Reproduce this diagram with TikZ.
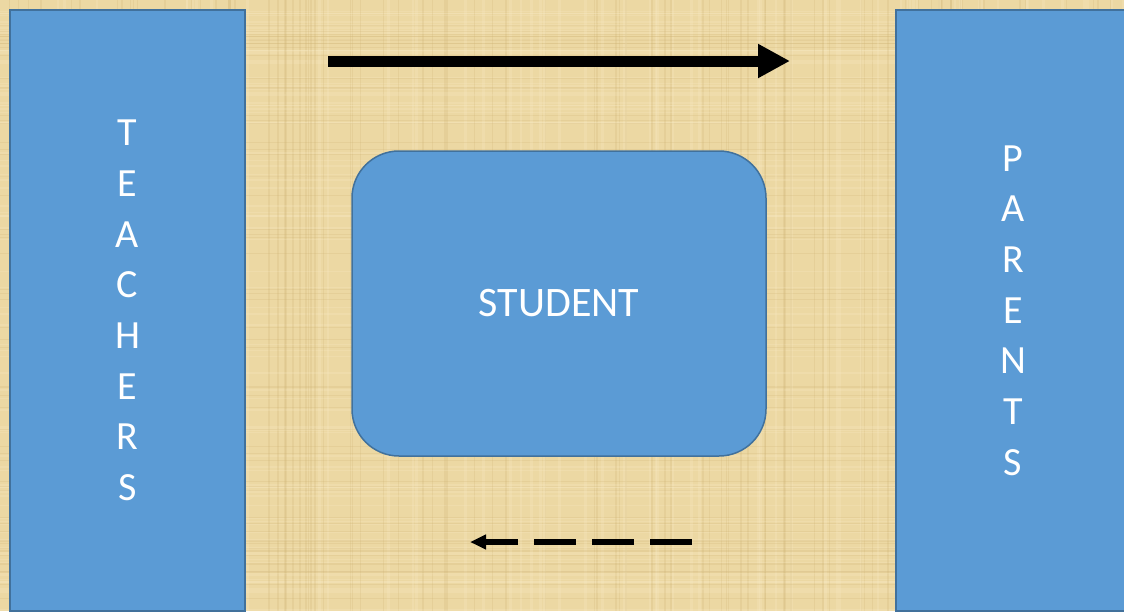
\documentclass[tikz,border=0pt]{standalone}
\usepackage{fontspec}
\setmainfont{Carlito}
\usepackage{tikz}
\usetikzlibrary{arrows.meta,positioning}
\usepackage{xcolor}
\definecolor{papyrus}{RGB}{236,216,163}
\definecolor{papyrusdark}{RGB}{205,178,115}
\definecolor{papyruslight}{RGB}{250,238,200}
\definecolor{boxfill}{RGB}{91,155,213}
\definecolor{boxline}{RGB}{65,113,156}

\begin{document}
\begin{tikzpicture}[
  x=1pt, y=-1pt,
  panel/.style={draw=boxline, fill=boxfill, line width=1.5pt, inner sep=0pt,
    outer sep=0pt, text=white, align=center,
    font=\fontsize{40}{50.7}\selectfont},
  fiber/.style={line width=#1, opacity=0.22},
  bigarr/.style={-{Triangle[length=32pt, width=32pt]}, line width=11pt},
  backarr/.style={-{Triangle[length=16pt, width=14pt]}, line width=6pt,
    dash pattern=on 42pt off 16pt}
]
% paper background
\useasboundingbox (0,0) rectangle (1124,611);
\fill[papyrus] (0,0) rectangle (1124,611);
\pgfmathsetseed{17}
\foreach \i in {1,...,90} {
  \pgfmathsetmacro\xx{rnd*1124}
  \pgfmathsetmacro\yy{rnd*611}
  \draw[fiber=1.5pt, papyrusdark] (\xx,0) -- (\xx,611);
  \draw[fiber=1.5pt, papyruslight] (0,\yy) -- (1124,\yy);
}
\foreach \i in {1,...,60} {
  \pgfmathsetmacro\xx{rnd*1124}
  \pgfmathsetmacro\yy{rnd*611}
  \draw[fiber=2.5pt, papyruslight] (\xx,0) -- (\xx,611);
  \draw[fiber=1pt, papyrusdark] (0,\yy) -- (1124,\yy);
}

% the three parties
\node[panel, minimum width=235pt, minimum height=601pt] (teachers)
  at (127.5,310.5) {T\\E\\A\\C\\H\\E\\R\\S};
\node[panel, minimum width=234pt, minimum height=601pt] (parents)
  at (1013,310.5) {P\\A\\R\\E\\N\\T\\S};
\node[panel, rounded corners=47pt, minimum width=414pt, minimum height=305pt,
  font=\fontsize{42}{50}\selectfont] (student) at (559,303.5) {STUDENT};

% arrow ends
\coordinate (fwdstart) at (328,61);
\coordinate (fwdend) at (790,61);
\coordinate (backstart) at (692,542);
\coordinate (backend) at (470,542);

\draw[bigarr] (fwdstart) -- (fwdend);
\draw[backarr] (backstart) -- (backend);
\end{tikzpicture}
\end{document}
